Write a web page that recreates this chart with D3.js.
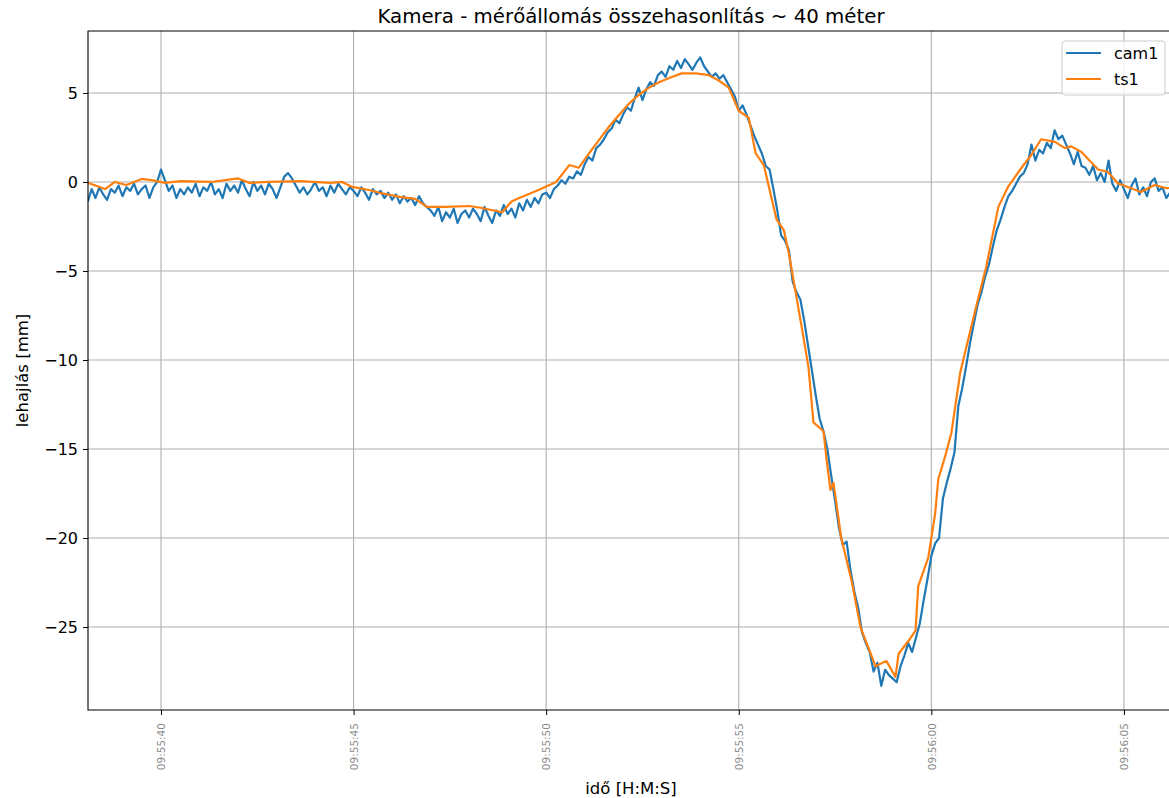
<!DOCTYPE html>
<html>
<head>
<meta charset="utf-8">
<script src="https://cdn.jsdelivr.net/npm/d3@7"></script>
<style>
  body { margin: 0; background: #fff; }
  svg { display: block; font-family: "DejaVu Sans", sans-serif; }
</style>
</head>
<body>
<svg id="chart" width="1169" height="798"></svg>
<script>
const TITLE = "Kamera - mérőállomás összehasonlítás ~ 40 méter"
const X_LABEL = "idő [H:M:S]"
const Y_LABEL = "lehajlás [mm]"
const seriesNames = ["cam1", "ts1"]
const yTicks = [-25, -20, -15, -10, -5, 0, 5]

// seconds after 09:55:00
const xDomain = [38.105, 66.3]
const yDomain = [-29.66, 8.48]

// cam1: one sample every 0.1 s starting at 09:55:38.1
const cam1Start = 38.1
const cam1Step = 0.1
const cam1Values = [
  -1.1, -0.4, -0.9, -0.3, -0.7, -1.0, -0.4, -0.6, -0.2, -0.8, -0.3, -0.5, -0.1, -0.7, -0.4, -0.2, -0.9, -0.3, 0.0,
  0.7, 0.1, -0.5, -0.2, -0.9, -0.4, -0.7, -0.3, -0.6, -0.1,
  -0.8, -0.3, -0.5, 0.0, -0.7, -0.4, -0.9, -0.1, -0.5, -0.2,
  -0.6, 0.1, -0.4, -0.8, 0.0, -0.5, -0.2, -0.7, -0.1, -0.4,
  -0.9, -0.3, 0.3, 0.5, 0.2, -0.2, -0.6, -0.3, -0.7, -0.4,
  0.0, -0.5, -0.3, -0.8, -0.2, -0.6, -0.1, -0.4, -0.7, -0.3,
  -0.5, -0.8, -0.3, -0.6, -1.0, -0.4, -0.7, -0.5, -0.9, -0.6,
  -1.0, -0.7, -1.2, -0.8, -1.1, -0.9, -1.3, -0.8, -1.2, -1.4,
  -1.6, -1.9, -1.4, -2.2, -1.7, -2.0, -1.5, -2.3, -1.8, -1.6,
  -2.0, -1.5, -1.8, -2.2, -1.4, -1.9, -2.3, -1.6, -1.9, -1.3,
  -1.8, -1.5, -2.0, -1.2, -1.6, -1.0, -1.4, -0.9, -1.2, -0.7,
  -0.6, -0.9, -0.4, -0.2, 0.1, -0.1, 0.3, 0.2, 0.6, 0.4,
  1.0, 1.4, 1.2, 1.9, 2.1, 2.4, 2.8, 3.0, 3.5, 3.3,
  3.8, 4.2, 4.0, 4.7, 5.3, 4.6, 5.2, 5.6, 5.4, 6.0,
  6.2, 5.9, 6.5, 6.3, 6.8, 6.4, 6.9, 6.6, 6.3, 6.7,
  7.0, 6.5, 6.2, 5.9, 6.1, 5.8, 6.0, 5.6, 5.2, 4.8,
  4.0, 4.3, 3.8, 3.2, 2.6, 2.1, 1.6, 0.9, 0.7, -0.4,
  -1.6, -3.0, -3.3, -3.8, -5.6, -6.2, -6.6, -7.8, -9.2, -10.6,
  -12.0, -13.3, -14.0, -15.0, -16.5, -17.9, -19.4, -20.4, -20.2, -21.8,
  -23.0, -23.9, -25.3, -25.9, -26.4, -27.5, -27.0, -28.3, -27.4, -27.7,
  -27.9, -28.1, -27.2, -26.6, -25.9, -26.4, -25.6, -24.8, -23.5, -22.3,
  -21.0, -20.3, -20.0, -17.8, -16.9, -16.1, -15.2, -12.6, -11.6, -10.4,
  -9.1, -8.0, -6.9, -6.2, -5.3, -4.6, -3.6, -2.7, -2.1, -1.4,
  -0.8, -0.5, -0.1, 0.3, 0.5, 1.0, 2.1, 1.2, 1.8, 1.6,
  2.2, 1.9, 2.9, 2.4, 2.6, 2.1, 1.6, 1.0, 1.7, 0.9,
  0.8, 0.4, 0.9, 0.1, 0.5, 0.0, 1.2, -0.1, -0.5, 0.1,
  -0.4, -0.9, -0.2, 0.2, -0.7, -0.3, -0.8, 0.0, 0.2, -0.5,
  -0.3, -0.9, -0.6, -0.4
]

// ts1: irregular samples (seconds after 09:55:00)
const ts1Times = [
  38.1, 38.55, 38.8, 39.1, 39.5, 39.75, 40.1, 40.5, 41.3, 42.0, 42.3, 42.8, 43.6, 44.4, 44.7,
  44.97, 45.4, 45.7, 46.2, 46.6, 46.9, 47.4, 48.0, 48.3, 48.86, 49.1, 49.3, 49.8, 50.26,
  50.6, 50.85, 51.11, 51.37, 51.63, 51.89, 52.15, 52.41, 52.67, 52.93, 53.26, 53.52, 53.89,
  54.22, 54.48, 54.74, 55.0, 55.26, 55.44, 55.65, 55.98, 56.17, 56.3, 56.63, 56.81, 56.94,
  57.2, 57.28, 57.38, 57.46, 57.66, 57.93, 58.16, 58.55, 58.83, 59.07, 59.15, 59.4, 59.59,
  59.66, 59.92, 60.1, 60.18, 60.36, 60.52, 60.75, 61.14, 61.42, 61.74, 61.99, 62.33, 62.59,
  62.85, 63.21, 63.47, 63.63, 63.89, 64.33, 64.59, 64.84, 65.1, 65.44, 65.8, 66.11, 66.4
]
const ts1Values = [
  -0.05, -0.4, 0.0, -0.17, 0.17, 0.1, -0.05, 0.05, 0.0, 0.2, -0.05, 0.0, 0.05, -0.05, 0.0,
  -0.28, -0.45, -0.62, -0.84, -0.95, -1.4, -1.4, -1.35, -1.45, -1.7, -1.1, -0.9, -0.45, 0.0,
  0.95, 0.8, 1.6, 2.35, 3.1, 3.76, 4.4, 4.9, 5.3, 5.6, 5.9, 6.1, 6.1,
  6.0, 5.7, 5.3, 4.0, 3.6, 1.6, 0.95, -2.1, -2.7, -4.0, -8.1, -10.4, -13.5,
  -14.0, -15.6, -17.3, -16.9, -20.0, -22.4, -25.0, -27.2, -26.9, -27.8, -26.5, -25.8, -25.2,
  -22.7, -21.1, -18.6, -16.7, -15.4, -14.1, -10.7, -7.2, -4.8, -1.4, -0.28, 0.77, 1.5,
  2.4, 2.25, 1.9, 2.0, 1.7, 0.7, 0.56, -0.07, -0.28, -0.56, -0.17, -0.35, -0.3
]

const colors = ["#1f77b4", "#ff7f0e"]

const base = new Date(2024, 0, 1, 9, 55, 0)
const toDate = (s) => new Date(base.getTime() + s * 1000)

const cam1 = cam1Values.map((v, i) => ({ t: toDate(cam1Start + i * cam1Step), v }))
const ts1 = ts1Values.map((v, i) => ({ t: toDate(ts1Times[i]), v }))

const margin = { left: 88, top: 31, right: 1174, bottom: 710 }

const svg = d3.select("#chart")

const x = d3.scaleTime()
  .domain(xDomain.map(toDate))
  .range([margin.left, margin.right])
const y = d3.scaleLinear()
  .domain(yDomain)
  .range([margin.bottom, margin.top])

svg.append("defs").append("clipPath").attr("id", "plot-clip")
  .append("rect")
  .attr("x", margin.left).attr("y", margin.top)
  .attr("width", margin.right - margin.left).attr("height", margin.bottom - margin.top)

// grid
const xTicks = x.ticks(d3.timeSecond.every(5))
svg.append("g").selectAll("line").data(xTicks).enter().append("line")
  .attr("x1", (d) => x(d)).attr("x2", (d) => x(d))
  .attr("y1", margin.top).attr("y2", margin.bottom)
  .attr("stroke", "#b0b0b0").attr("stroke-width", 1.1)
svg.append("g").selectAll("line").data(yTicks).enter().append("line")
  .attr("x1", margin.left).attr("x2", margin.right)
  .attr("y1", (d) => y(d)).attr("y2", (d) => y(d))
  .attr("stroke", "#b0b0b0").attr("stroke-width", 1.1)

// lines
const line = d3.line().x((d) => x(d.t)).y((d) => y(d.v))
const plot = svg.append("g").attr("clip-path", "url(#plot-clip)")
plot.append("path").datum(cam1)
  .attr("d", line).attr("fill", "none")
  .attr("stroke", colors[0]).attr("stroke-width", 2.2).attr("stroke-linejoin", "round")
plot.append("path").datum(ts1)
  .attr("d", line).attr("fill", "none")
  .attr("stroke", colors[1]).attr("stroke-width", 2.2).attr("stroke-linejoin", "round")

// axes
const yAxis = svg.append("g")
  .attr("transform", `translate(${margin.left},0)`)
  .call(d3.axisLeft(y).tickValues(yTicks).tickSize(5).tickPadding(5))
yAxis.select(".domain").remove()
yAxis.selectAll("text").attr("font-size", 16).attr("fill", "#000")
  .attr("font-family", "DejaVu Sans")

const xAxis = svg.append("g")
  .attr("transform", `translate(0,${margin.bottom})`)
  .call(d3.axisBottom(x).ticks(d3.timeSecond.every(5)).tickFormat(d3.timeFormat("%H:%M:%S")).tickSize(5))
xAxis.select(".domain").remove()
xAxis.selectAll("text")
  .attr("font-size", 10.5).attr("fill", "#8a8a8a").attr("font-family", "DejaVu Sans")
  .attr("transform", "rotate(-90)")
  .attr("text-anchor", "end")
  .attr("x", -13).attr("y", 0).attr("dy", "0.35em")

// spines
svg.append("path")
  .attr("d", `M${margin.right},${margin.top}H${margin.left}V${margin.bottom}H${margin.right}`)
  .attr("fill", "none").attr("stroke", "#000").attr("stroke-width", 1.1)

// labels
svg.append("text")
  .attr("x", (margin.left + margin.right) / 2).attr("y", 23)
  .attr("text-anchor", "middle").attr("font-size", 19.8)
  .text(TITLE)
svg.append("text")
  .attr("x", (margin.left + margin.right) / 2).attr("y", 794)
  .attr("text-anchor", "middle").attr("font-size", 16.5)
  .text(X_LABEL)
svg.append("text")
  .attr("transform", `translate(28,${(margin.top + margin.bottom) / 2}) rotate(-90)`)
  .attr("text-anchor", "middle").attr("font-size", 16.5)
  .text(Y_LABEL)

// legend
const legend = svg.append("g").attr("transform", "translate(1062,41)")
legend.append("rect")
  .attr("width", 103).attr("height", 54).attr("rx", 3)
  .attr("fill", "#fff").attr("fill-opacity", 0.8)
  .attr("stroke", "#cccccc")
seriesNames.forEach((name, i) => {
  const row = legend.append("g").attr("transform", `translate(0,${12 + i * 26})`)
  row.append("line").attr("x1", 4).attr("x2", 39).attr("y1", 0).attr("y2", 0)
    .attr("stroke", colors[i]).attr("stroke-width", 2.2)
  row.append("text").attr("x", 52).attr("y", 0).attr("dy", "0.35em")
    .attr("font-size", 16).text(name)
})
</script>
</body>
</html>
